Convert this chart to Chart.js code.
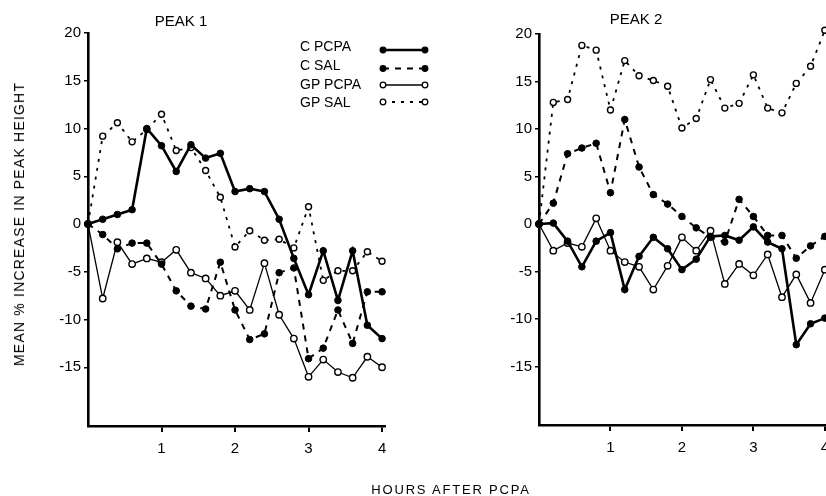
<!DOCTYPE html>
<html>
<head>
<meta charset="utf-8">
<script src="https://cdn.jsdelivr.net/npm/chart.js@4.4.1/dist/chart.umd.min.js"></script>
<style>
  body { margin: 0; width: 826px; height: 496px; overflow: hidden; position: relative; background: #fff;
         font-family: "Liberation Sans", Arial, sans-serif; color: #000; }
  .wrap { position: absolute; top: 0; height: 496px; }
  .lbl { position: absolute; white-space: nowrap; font-size: 14px; line-height: 1; }
</style>
</head>
<body>
<div class="wrap" style="left:0; width:440px;"><canvas id="peak1"></canvas></div>
<div class="wrap" style="left:451px; width:400px;"><canvas id="peak2"></canvas></div>
<div class="lbl" style="left:181px; top:13px; font-size:15px; transform:translateX(-50%);">PEAK 1</div>
<div class="lbl" style="left:636px; top:11px; font-size:15px; transform:translateX(-50%);">PEAK 2</div>
<div class="lbl" style="left:19px; top:224px; letter-spacing:1.2px; transform:translate(-50%,-50%) rotate(-90deg);">MEAN % INCREASE IN PEAK HEIGHT</div>
<div class="lbl" style="left:451px; top:483px; font-size:13px; letter-spacing:1.8px; transform:translateX(-50%);">HOURS AFTER PCPA</div>

<script>
// sample times (hours after PCPA)
const hours = [0, 0.2, 0.4, 0.6, 0.8, 1.0, 1.2, 1.4, 1.6, 1.8, 2.0, 2.2, 2.4, 2.6, 2.8, 3.0, 3.2, 3.4, 3.6, 3.8, 4.0];
const seriesNames = ["C PCPA", "C SAL", "GP PCPA", "GP SAL"];
const yTicks = [-15, -10, -5, 0, 5, 10, 15, 20];
const xTicks = [1, 2, 3, 4];

// peak 1
const p1CPcpa = [0, 0.5, 1.0, 1.5, 10, 8.2, 5.5, 8.3, 6.9, 7.4, 3.4, 3.7, 3.4, 0.5, -3.6, -7.4, -2.8, -8.0, -2.8, -10.6, -12.0];
const p1CSal = [0, -1.1, -2.6, -2.0, -2.0, -4.2, -7.0, -8.6, -8.9, -4.0, -9.0, -12.1, -11.5, -5.1, -4.6, -14.1, -13.0, -9.0, -12.5, -7.1, -7.1];
const p1GpPcpa = [0, -7.8, -1.9, -4.2, -3.6, -4.0, -2.7, -5.1, -5.7, -7.5, -7.0, -9.0, -4.1, -9.5, -12.0, -16.0, -14.2, -15.5, -16.1, -13.9, -15.0];
const p1GpSal = [0, 9.2, 10.6, 8.6, 9.9, 11.5, 7.7, 8.0, 5.6, 2.8, -2.4, -0.7, -1.7, -1.6, -2.5, 1.8, -5.9, -4.9, -4.9, -2.9, -3.9];

// peak 2
const p2CPcpa = [0, 0.1, -1.8, -4.5, -1.8, -0.9, -6.9, -3.4, -1.4, -2.6, -4.8, -3.7, -1.3, -1.2, -1.7, -0.3, -1.9, -2.6, -12.7, -10.5, -9.9];
const p2CSal = [0, 2.2, 7.4, 8.0, 8.5, 3.3, 11.0, 6.0, 3.1, 2.1, 0.8, -0.4, -1.4, -1.9, 2.6, 0.8, -1.2, -1.2, -3.6, -2.3, -1.3];
const p2GpPcpa = [0, -2.8, -2.0, -2.4, 0.6, -2.8, -4.0, -4.5, -6.9, -4.4, -1.4, -2.8, -0.7, -6.3, -4.2, -5.4, -3.2, -7.7, -5.3, -8.3, -4.8];
const p2GpSal = [0, 12.8, 13.1, 18.8, 18.3, 12.0, 17.2, 15.6, 15.1, 14.5, 10.1, 11.1, 15.2, 12.2, 12.7, 15.7, 12.2, 11.7, 14.8, 16.6, 20.4];

const tickFont = { family: '"Liberation Sans", Arial, sans-serif', size: 15 };

function pts(values) {
  return values.map((v, i) => ({ x: hours[i], y: v }));
}

function makeDatasets(cPcpa, cSal, gpPcpa, gpSal) {
  return [
    { label: seriesNames[0], data: pts(cPcpa), borderColor: "#000", borderWidth: 2.6, borderDash: [],
      pointBackgroundColor: "#000", pointBorderColor: "#000", pointRadius: 3.3, pointBorderWidth: 1 },
    { label: seriesNames[1], data: pts(cSal), borderColor: "#000", borderWidth: 2, borderDash: [6, 6],
      pointBackgroundColor: "#000", pointBorderColor: "#000", pointRadius: 3.3, pointBorderWidth: 1 },
    { label: seriesNames[2], data: pts(gpPcpa), borderColor: "#000", borderWidth: 1.3, borderDash: [],
      pointBackgroundColor: "#fff", pointBorderColor: "#000", pointRadius: 3.2, pointBorderWidth: 1.4 },
    { label: seriesNames[3], data: pts(gpSal), borderColor: "#000", borderWidth: 1.8, borderDash: [3, 6],
      pointBackgroundColor: "#fff", pointBorderColor: "#000", pointRadius: 3, pointBorderWidth: 1.4 },
  ];
}

// legend drawn next to the data, with a marker on both ends of each sample
const sideLegend = {
  id: "sideLegend",
  afterDraw(chart) {
    const ctx = chart.ctx;
    const textY = [47.5, 66.5, 85, 103.5];
    const lineY = [50, 68.5, 85, 102];
    chart.data.datasets.forEach((ds, i) => {
      ctx.save();
      ctx.font = '14px "Liberation Sans", Arial, sans-serif';
      ctx.fillStyle = "#000";
      ctx.textBaseline = "middle";
      ctx.fillText(ds.label, 300, textY[i]);
      ctx.strokeStyle = "#000";
      ctx.lineWidth = ds.borderWidth;
      ctx.setLineDash(ds.borderDash);
      ctx.beginPath();
      ctx.moveTo(383, lineY[i]);
      ctx.lineTo(425, lineY[i]);
      ctx.stroke();
      ctx.setLineDash([]);
      [383, 425].forEach(x => {
        ctx.beginPath();
        ctx.arc(x, lineY[i], 2.8, 0, Math.PI * 2);
        ctx.fillStyle = ds.pointBackgroundColor;
        ctx.fill();
        ctx.lineWidth = 1.3;
        ctx.stroke();
      });
      ctx.restore();
    });
  }
};

function makeChart(id, datasets, xMax, pad, xHeight, plugins) {
  return new Chart(document.getElementById(id), {
    type: "line",
    data: { datasets: datasets },
    plugins: plugins,
    options: {
      responsive: true,
      maintainAspectRatio: false,
      animation: false,
      clip: false,
      layout: { padding: pad },
      plugins: { legend: { display: false }, tooltip: { enabled: false } },
      elements: { line: { tension: 0 } },
      scales: {
        x: {
          type: "linear", min: 0, max: xMax,
          afterBuildTicks: s => { s.ticks = xTicks.map(v => ({ value: v })); },
          afterFit: s => { s.height = xHeight; },
          ticks: { color: "#000", font: tickFont, padding: 8 },
          grid: { drawOnChartArea: false, drawTicks: true, tickLength: 6, color: "#000", lineWidth: 2 },
          border: { display: true, color: "#000", width: 2.6 },
        },
        y: {
          min: -21.15, max: 20,
          afterBuildTicks: s => { s.ticks = yTicks.map(v => ({ value: v })); },
          afterFit: s => { s.width = 88; },
          ticks: { color: "#000", font: tickFont, padding: 3 },
          grid: { drawOnChartArea: false, drawTicks: true, tickLength: 4, color: "#000", lineWidth: 1.5 },
          border: { display: true, color: "#000", width: 2.6 },
        },
      },
    },
  });
}

makeChart("peak1", makeDatasets(p1CPcpa, p1CSal, p1GpPcpa, p1GpSal), 4.04,
  { top: 33, right: 55, left: 0, bottom: 0 }, 70, [sideLegend]);
makeChart("peak2", makeDatasets(p2CPcpa, p2CSal, p2GpPcpa, p2GpSal), 4.03,
  { top: 34, right: 24, left: 0, bottom: 0 }, 71, []);
</script>
</body>
</html>
